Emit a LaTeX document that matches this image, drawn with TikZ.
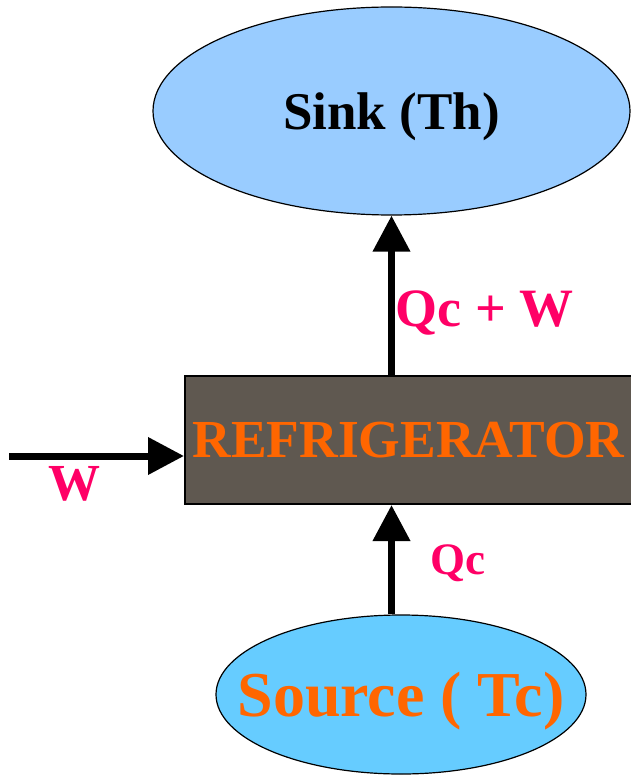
\documentclass[tikz,border=0pt]{standalone}
\usepackage{fontspec}
\setmainfont{Liberation Serif}
\usepackage{tikz}
\usetikzlibrary{arrows.meta,positioning,calc,shapes.geometric}
\definecolor{sinkBlue}{RGB}{153,204,255}
\definecolor{sourceBlue}{RGB}{102,204,255}
\definecolor{fridgeGrey}{RGB}{95,88,80}
\definecolor{flowPink}{RGB}{255,0,102}
\definecolor{fridgeOrange}{RGB}{255,102,0}

\begin{document}
\begin{tikzpicture}[x=1pt,y=-1pt,
  flow/.style={line width=7pt,-{Triangle[length=36pt,width=36pt]}},
  flowlabel/.style={anchor=base,text=flowPink,font=\fontsize{#1}{#1}\selectfont\bfseries}]
  \useasboundingbox (0,0) rectangle (630,775);
  % reservoirs
  \node[ellipse,draw,line width=1.2pt,fill=sinkBlue,minimum width=477pt,minimum height=208pt,
        inner sep=0pt,text depth=0pt,font=\fontsize{53}{53}\selectfont\bfseries] (sink) at (391.5,111) {Sink (Th)};
  \node[ellipse,draw,line width=1.2pt,fill=sourceBlue,minimum width=370pt,minimum height=159pt,
        inner sep=0pt,text depth=0pt,text=fridgeOrange,font=\fontsize{64}{64}\selectfont\bfseries] (source) at (401,694.5)
        {\makebox[0pt]{Source ( Tc)}};
  % machine
  \node[draw,line width=2pt,fill=fridgeGrey,minimum width=447pt,minimum height=128pt,inner sep=0pt,
        text=fridgeOrange,font=\fontsize{53.5}{53.5}\selectfont\bfseries] (fridge) at (408.5,440) {REFRIGERATOR};
  % flows
  \coordinate (wstart) at (9,456);
  \draw[flow] (wstart) -- (wstart -| fridge.west);
  \draw[flow] (sink.south |- fridge.north) -- (sink.south);
  \draw[flow] (sink.south |- source.north) -- (sink.south |- fridge.south);
  \node[flowlabel=54] (qhot) at (484.5,326) {Qc + W};
  \node[flowlabel=52] (work) at (74,500) {W};
  \node[flowlabel=45] (qcold) at (457.5,574) {Qc};
\end{tikzpicture}
\end{document}
